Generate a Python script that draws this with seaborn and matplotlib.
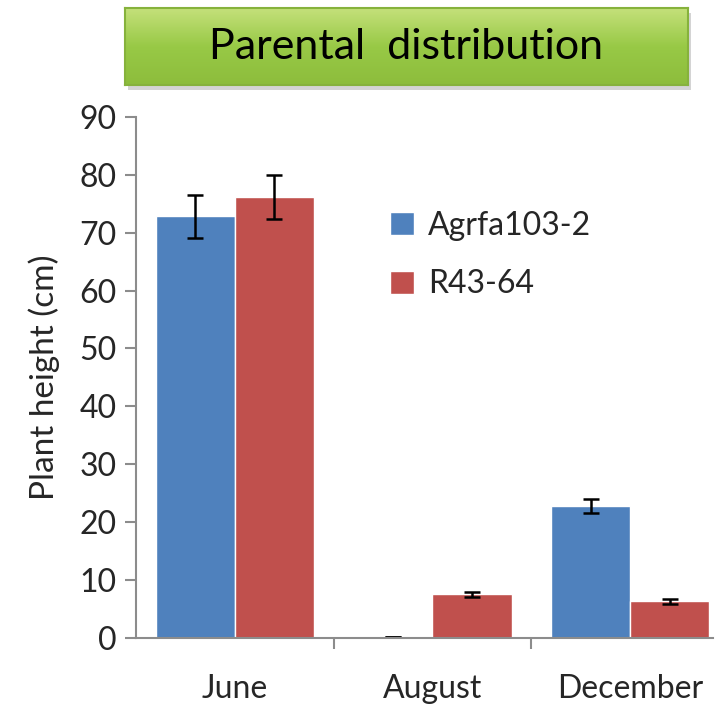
import pandas as pd
import numpy as np
import seaborn as sns
import matplotlib.pyplot as plt
from matplotlib.patches import Rectangle

# Data
months = ['June', 'August', 'December']
lines = ['Agrfa103-2', 'R43-64']
agrfa_height = [72.8, 0.1, 22.8]
agrfa_err = [3.7, 0.0, 1.2]
r43_height = [76.2, 7.5, 6.3]
r43_err = [3.8, 0.4, 0.4]

BLUE = '#4f81bd'
RED = '#c0504d'

df = pd.DataFrame({
    'month': months * 2,
    'line': [lines[0]] * 3 + [lines[1]] * 3,
    'height': agrfa_height + r43_height,
    'err': agrfa_err + r43_err,
})

sns.set_theme(style='white')
plt.rcParams['font.family'] = ['Lato', 'DejaVu Sans']

fig = plt.figure(figsize=(7.27, 7.08), dpi=100)
ax = fig.add_axes([0.187, 0.099, 0.794, 0.736])

sns.barplot(data=df, x='month', y='height', hue='line', order=months,
            hue_order=lines, palette=[BLUE, RED], width=0.8,
            saturation=1, errorbar=None, ax=ax)

# Error bars at bar centres
for container, line in zip(ax.containers, lines):
    sub = df[df['line'] == line].set_index('month').loc[months]
    xs = [b.get_x() + b.get_width() / 2 for b in container]
    ax.errorbar(xs, sub['height'], yerr=sub['err'], fmt='none',
                ecolor='black', elinewidth=1.8, capsize=6, capthick=1.8)

ax.set_ylim(0, 90)
ax.set_yticks(range(0, 91, 10))
ax.set_xlim(-0.5, 2.42)
ax.set_xlabel('')
ax.set_ylabel('Plant height (cm)', fontsize=24, labelpad=14)

for side in ['top', 'right']:
    ax.spines[side].set_visible(False)
for side in ['left', 'bottom']:
    ax.spines[side].set_color('#8c8c8c')
    ax.spines[side].set_linewidth(1.5)

ax.tick_params(axis='y', which='major', left=True, length=8, width=1.5,
               color='#8c8c8c', labelsize=23, pad=6)
ax.tick_params(axis='x', which='major', bottom=False, labelsize=23, pad=20)
ax.set_xticks([0.5, 1.5], minor=True)
ax.tick_params(axis='x', which='minor', bottom=True, length=8, width=1.5,
               color='#8c8c8c')

ax.legend(title=None, frameon=False, fontsize=23, loc='upper left',
          bbox_to_anchor=(0.39, 0.875), handlelength=0.75, handleheight=0.75,
          labelspacing=0.9, handletextpad=0.45)

# Green title box with a soft vertical gradient and shadow
x0, y0, w, h = 0.172, 0.880, 0.774, 0.108
shadow = Rectangle((x0 + 0.004, y0 - 0.007), w, h, transform=fig.transFigure,
                   facecolor='#d4d4d4', edgecolor='none', zorder=-1)
fig.patches.append(shadow)
gax = fig.add_axes([x0, y0, w, h])
grad = np.linspace(0, 1, 64).reshape(-1, 1)
gax.imshow(grad, aspect='auto', cmap=sns.blend_palette(['#c4e07a', '#98c946', '#8dbd3c'], as_cmap=True),
           extent=[0, 1, 0, 1], origin='upper')
gax.set_xticks([])
gax.set_yticks([])
for s in gax.spines.values():
    s.set_color('#86b23c')
    s.set_linewidth(1.5)
gax.text(0.5, 0.5, 'Parental  distribution', ha='center', va='center',
         fontsize=31, color='black', transform=gax.transAxes)

plt.savefig('out.png', dpi=100)
